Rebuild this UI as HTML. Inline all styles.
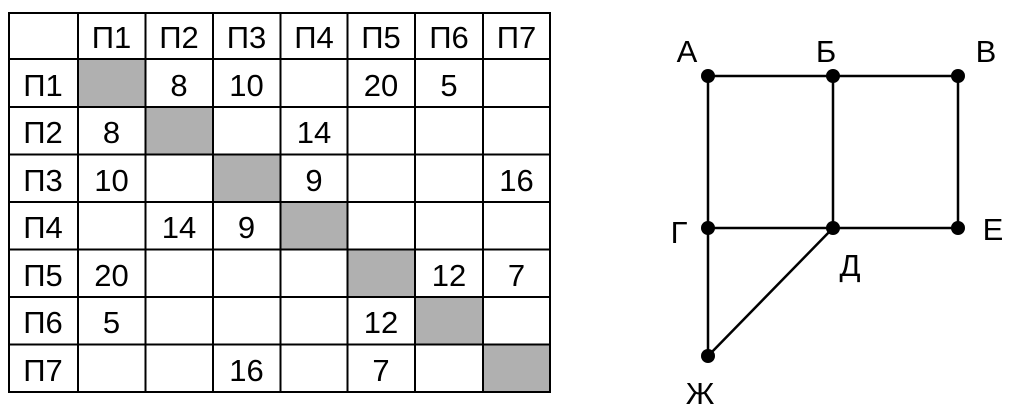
<!DOCTYPE html>
<html><head><meta charset="utf-8"><style>
body{margin:0;background:#fff;width:1021px;height:415px;overflow:hidden}
svg{display:block}
text{font-family:"Liberation Sans","DejaVu Sans",sans-serif;font-size:31px;fill:#000}
</style></head><body>
<svg width="1021" height="415" viewBox="0 0 1021 415">
<g fill="#b0b0b0">
<rect x="78" y="59" width="67.5" height="48"/>
<rect x="145.5" y="107" width="67.5" height="47.5"/>
<rect x="213" y="154.5" width="67.5" height="47.5"/>
<rect x="280.5" y="202" width="67" height="47.5"/>
<rect x="347.5" y="249.5" width="67.5" height="47.5"/>
<rect x="415" y="297" width="68" height="47.5"/>
<rect x="483" y="344.5" width="67" height="47.5"/>
</g>
<g stroke="#000" stroke-width="2" fill="none">
<rect x="9" y="13" width="541" height="379"/>
<line x1="78" y1="13" x2="78" y2="392"/>
<line x1="145.5" y1="13" x2="145.5" y2="392"/>
<line x1="213" y1="13" x2="213" y2="392"/>
<line x1="280.5" y1="13" x2="280.5" y2="392"/>
<line x1="347.5" y1="13" x2="347.5" y2="392"/>
<line x1="415" y1="13" x2="415" y2="392"/>
<line x1="483" y1="13" x2="483" y2="392"/>
<line x1="9" y1="59" x2="550" y2="59"/>
<line x1="9" y1="107" x2="550" y2="107"/>
<line x1="9" y1="154.5" x2="550" y2="154.5"/>
<line x1="9" y1="202" x2="550" y2="202"/>
<line x1="9" y1="249.5" x2="550" y2="249.5"/>
<line x1="9" y1="297" x2="550" y2="297"/>
<line x1="9" y1="344.5" x2="550" y2="344.5"/>
</g>
<g text-anchor="middle">
<text x="111.5" y="48">П1</text><text x="179" y="48">П2</text><text x="246.5" y="48">П3</text><text x="314" y="48">П4</text><text x="381" y="48">П5</text><text x="449" y="48">П6</text><text x="516.5" y="48">П7</text>
<text x="43" y="96">П1</text><text x="43" y="143">П2</text><text x="43" y="191">П3</text><text x="43" y="238">П4</text><text x="43" y="286">П5</text><text x="43" y="333">П6</text><text x="43" y="381">П7</text>
<text x="179" y="96">8</text><text x="246.5" y="96">10</text><text x="381" y="96">20</text><text x="449" y="96">5</text>
<text x="111.5" y="143">8</text><text x="314" y="143">14</text>
<text x="111.5" y="191">10</text><text x="314" y="191">9</text><text x="516.5" y="191">16</text>
<text x="179" y="238">14</text><text x="246.5" y="238">9</text>
<text x="111.5" y="286">20</text><text x="449" y="286">12</text><text x="516.5" y="286">7</text>
<text x="111.5" y="333">5</text><text x="381" y="333">12</text>
<text x="246.5" y="381">16</text><text x="381" y="381">7</text>
</g>
<g stroke="#000" stroke-width="2.5" fill="none">
<rect x="708" y="76" width="250" height="152"/>
<line x1="833" y1="76" x2="833" y2="228"/>
<line x1="708" y1="228" x2="708" y2="356"/>
<line x1="833" y1="228" x2="708" y2="356"/>
</g>
<g fill="#000">
<circle cx="708" cy="76" r="7"/><circle cx="833" cy="76" r="7"/><circle cx="958" cy="76" r="7"/>
<circle cx="708" cy="228" r="7"/><circle cx="833" cy="228" r="7"/><circle cx="958" cy="228" r="7"/>
<circle cx="708" cy="356" r="7"/>
</g>
<g text-anchor="middle">
<text x="687" y="62">А</text><text x="826" y="62">Б</text><text x="986" y="62">В</text>
<text x="679" y="243">Г</text><text x="850" y="276">Д</text><text x="993" y="240">Е</text>
<text x="700" y="404">Ж</text>
</g>
</svg>
</body></html>
